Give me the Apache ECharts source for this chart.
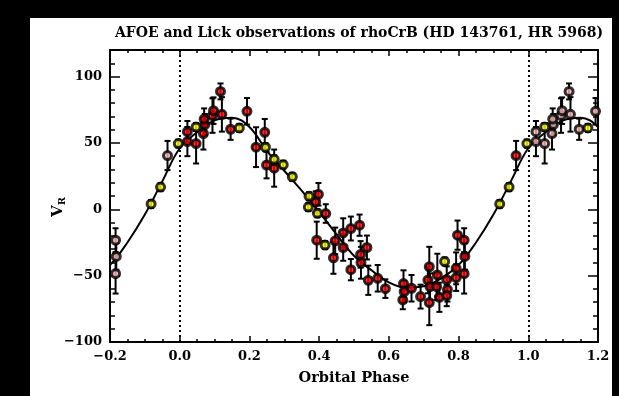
<!DOCTYPE html>
<html>
<head>
<meta charset="utf-8">
<script src="https://cdn.jsdelivr.net/npm/echarts@6/dist/echarts.min.js"></script>
<style>
html,body{margin:0;padding:0;background:#000;}
#chart{width:619px;height:396px;}
</style>
</head>
<body>
<div id="chart"></div>
<script>
// Lick observations (red); copies outside phase 0..1 are drawn pink
const redPhase = [0.022,0.022,0.047,0.068,0.072,0.070,0.094,0.097,0.117,0.121,0.146,0.193,0.219,0.244,0.249,0.271,
  0.398,0.390,0.419,0.393,0.446,0.441,0.469,0.469,0.491,0.516,0.537,0.519,0.520,0.491,0.541,0.568,0.590,
  0.642,0.640,0.644,0.665,0.691,0.716,0.716,0.712,0.718,0.739,0.737,0.745,0.766,0.768,0.766,
  0.793,0.793,0.797,0.816,0.818,0.816,0.965];
const redV = [51,58.5,49.5,57,63.8,68,70.6,74.3,88.8,71.5,60.3,73.8,46.8,58,33.3,31,
  11.3,5.5,-3.2,-23.3,-23.8,-36.6,-17.8,-28.8,-14.5,-12,-28.8,-34,-40.3,-45.5,-53.5,-52,-59.8,
  -56,-68.3,-62,-59.5,-65.8,-70.3,-43.3,-53.3,-58.3,-49.5,-58.3,-66.3,-53,-60.5,-65,
  -44.5,-51.5,-19.5,-23.3,-35.5,-48.5,40.5];
const redErr = [11,8,15,12,8,8,13,10,6,13,8,10,15,10,10,14,
  8.5,8,7,14,10,12,11,10,9,8,9,10,12,8,11,10,7,
  10,7,8,10,9,17,15,10,10,16,10,11,10,9,8,
  12,10,11,9,10,15,11];
// AFOE observations (yellow)
const yelPhase = [0.047,0.171,0.246,0.271,0.297,0.323,0.371,0.369,0.395,0.417,0.760,0.918,0.945,0.996];
const yelV = [62,61.3,46.8,37.6,33.6,24.5,9.8,1.7,-3,-27,-39.3,4,16.7,49.5];
const yelErr = [3,3,3,3,3,3,3,3,3,3,3,3,3,3];
// Orbit fit
const curvePhase = [0,0.05,0.10,0.15,0.20,0.25,0.30,0.35,0.40,0.45,0.50,0.55,0.60,0.65,0.70,0.75,0.80,0.85,0.90,0.95];
const curveV = [46,58,67,69,62,44,29,14,-2,-19,-35,-46,-55,-59,-58,-52,-42,-25,-4,21];
const xTickLabels = ['\u22120.2','0.0','0.2','0.4','0.6','0.8','1.0','1.2'];
const yTickLabels = {'-100':'\u2212100','-50':'\u221250','0':'0','50':'50','100':'100'};

function build(ph, v, e) {
  const main = [], copies = [];
  for (let i = 0; i < ph.length; i++) {
    main.push([ph[i], v[i], e[i]]);
    if (ph[i] > 0.8) copies.push([ph[i] - 1, v[i], e[i]]);
    if (ph[i] < 0.2) copies.push([ph[i] + 1, v[i], e[i]]);
  }
  return {main, copies};
}
const red = build(redPhase, redV, redErr);
const yel = build(yelPhase, yelV, yelErr);

const curve = [];
for (const shift of [-1, 0, 1]) {
  for (let i = 0; i < curvePhase.length; i++) curve.push([curvePhase[i] + shift, curveV[i]]);
}
curve.push([2, curveV[0]]);

const FONT = 'DejaVu Serif';
const axisCommonLine = {show:true, onZero:false, lineStyle:{color:'#000', width:2}};
const hiddenLine = {show:false, onZero:false};

function errRender(params, api) {
  const x = api.value(0), y = api.value(1), e = api.value(2);
  const t = api.coord([x, y + e]), b = api.coord([x, y - e]);
  const hw = 3, st = {stroke:'#000', lineWidth:2};
  return {type:'group', children:[
    {type:'line', shape:{x1:t[0], y1:t[1], x2:b[0], y2:b[1]}, style:st},
    {type:'line', shape:{x1:t[0]-hw, y1:t[1], x2:t[0]+hw, y2:t[1]}, style:st},
    {type:'line', shape:{x1:b[0]-hw, y1:b[1], x2:b[0]+hw, y2:b[1]}, style:st}
  ]};
}
const allErr = red.main.concat(red.copies, yel.main, yel.copies);

const chart = echarts.init(document.getElementById('chart'));
const option = {
  backgroundColor: '#000',
  animation: false,
  graphic: [
    {type:'rect', z:-100, silent:true, shape:{x:30, y:18, width:582, height:378}, style:{fill:'#fff'}},
    {type:'text', x:359, y:33, silent:true, style:{text:'AFOE and Lick observations of rhoCrB (HD 143761, HR 5968)', fill:'#000',
      font:'bold 14px "DejaVu Serif"', textAlign:'center', textVerticalAlign:'middle'}},
    {type:'text', x:58, y:207, rotation:Math.PI/2, silent:true, style:{text:'{v|V}{s|R}', align:'center', verticalAlign:'middle',
      rich:{
        v:{fontFamily:FONT, fontWeight:'bold', fontSize:15, fill:'#000'},
        s:{fontFamily:FONT, fontWeight:'bold', fontSize:10, fill:'#000', padding:[9,0,0,0]}}}}
  ],
  grid: {left:110, right:21, top:50, bottom:54},
  xAxis: [
    {type:'value', position:'bottom', min:-0.2, max:1.2, interval:0.2,
     axisLine: axisCommonLine,
     axisTick:{show:true, inside:true, length:6, lineStyle:{color:'#000', width:1.5}},
     minorTick:{show:true, splitNumber:4, length:3, lineStyle:{color:'#000', width:1.5}},
     splitLine:{show:false}, minorSplitLine:{show:false},
     axisLabel:{margin:8, color:'#000', fontFamily:FONT, fontWeight:'bold', fontSize:13,
       formatter:(v)=>xTickLabels[Math.round((v+0.2)/0.2)]},
     name:'Orbital Phase', nameLocation:'middle', nameGap:29,
     nameTextStyle:{color:'#000', fontFamily:FONT, fontWeight:'bold', fontSize:14.5}},
    {type:'value', position:'top', min:-0.2, max:1.2, interval:0.2,
     axisLine: axisCommonLine,
     axisTick:{show:true, inside:true, length:6, lineStyle:{color:'#000', width:1.5}},
     minorTick:{show:true, splitNumber:4, length:3, lineStyle:{color:'#000', width:1.5}},
     splitLine:{show:false}, minorSplitLine:{show:false}, axisLabel:{show:false}}
  ],
  yAxis: [
    {type:'value', position:'left', min:-100, max:120, interval:50,
     axisLine: axisCommonLine,
     axisTick:{show:true, inside:true, length:10, lineStyle:{color:'#000', width:1.5}},
     splitLine:{show:false},
     axisLabel:{margin:8, color:'#000', fontFamily:FONT, fontWeight:'bold', fontSize:13,
       formatter:(v)=> (yTickLabels[String(Math.round(v))] || '')}},
    {type:'value', position:'left', min:-100, max:120, interval:10,
     axisLine: hiddenLine,
     axisTick:{show:true, inside:true, length:5, lineStyle:{color:'#000', width:1.5}},
     splitLine:{show:false}, axisLabel:{show:false}},
    {type:'value', position:'right', min:-100, max:120, interval:50,
     axisLine: axisCommonLine,
     axisTick:{show:true, inside:true, length:10, lineStyle:{color:'#000', width:1.5}},
     splitLine:{show:false}, axisLabel:{show:false}},
    {type:'value', position:'right', min:-100, max:120, interval:10,
     axisLine: hiddenLine,
     axisTick:{show:true, inside:true, length:5, lineStyle:{color:'#000', width:1.5}},
     splitLine:{show:false}, axisLabel:{show:false}}
  ],
  series: [
    {type:'line', data:curve, showSymbol:false, smooth:0.4, z:2,
     lineStyle:{color:'#000', width:2},
     markLine:{silent:true, symbol:'none', label:{show:false},
       lineStyle:{color:'#000', width:2, type:[2,3]},
       data:[{xAxis:0},{xAxis:1}]}},
    {type:'custom', renderItem:errRender, data:allErr, encode:{x:0, y:1}, clip:true, z:3},
    {type:'scatter', data:red.copies, symbol:'circle', symbolSize:8, clip:true, z:4,
     itemStyle:{color:'#f9b8b8', borderColor:'#000', borderWidth:3}},
    {type:'scatter', data:red.main, symbol:'circle', symbolSize:8, clip:true, z:4,
     itemStyle:{color:'#ff0000', borderColor:'#000', borderWidth:3}},
    {type:'scatter', data:yel.main.concat(yel.copies), symbol:'circle', symbolSize:8, clip:true, z:5,
     itemStyle:{color:'#ffff00', borderColor:'#000', borderWidth:3}}
  ]
};
chart.setOption(option);
</script>
</body>
</html>
